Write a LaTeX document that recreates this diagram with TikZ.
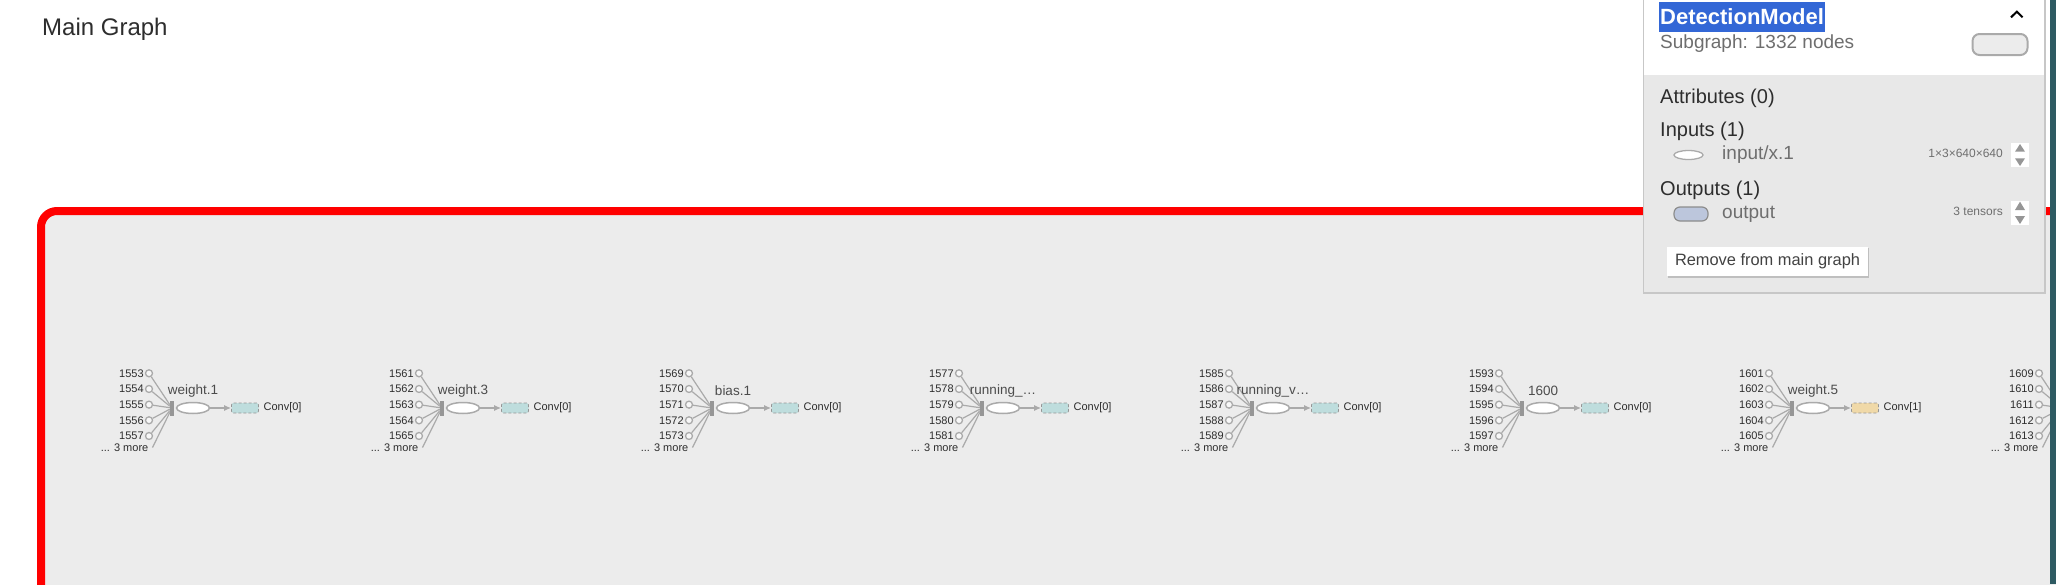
\documentclass[tikz,border=0pt]{standalone}
\usepackage{fontspec}
\setmainfont{Liberation Sans}
\usetikzlibrary{shapes.geometric,arrows,arrows.meta,positioning}
\definecolor{framered}{RGB}{255,0,0}
\definecolor{canvasgray}{RGB}{236,236,236}
\definecolor{edgegray}{RGB}{170,170,170}
\definecolor{hubgray}{RGB}{150,150,150}
\definecolor{convteal}{RGB}{190,221,221}
\definecolor{convsand}{RGB}{240,217,168}
\definecolor{panelgray}{RGB}{232,232,232}
\definecolor{selblue}{RGB}{51,103,214}
\definecolor{textdark}{RGB}{45,45,45}
\definecolor{textgray}{RGB}{110,110,110}
\definecolor{outblue}{RGB}{188,198,220}
\definecolor{stripteal}{RGB}{46,90,98}

\begin{document}
\begin{tikzpicture}[x=1pt,y=-1pt,>={Latex[length=7pt,width=6pt]}]
\tikzstyle{const}=[circle,draw=edgegray,line width=1.3pt,fill=canvasgray!40!white,
inner sep=0pt,minimum size=7pt,label distance=4.5pt]
\tikzstyle{num}=[font=\fontsize{11}{13}\selectfont,text=textdark,inner sep=1pt]
\tikzstyle{hub}=[rectangle,fill=hubgray,inner sep=0pt,minimum width=4pt,minimum height=15pt]
\tikzstyle{op}=[ellipse,draw=edgegray,line width=1.5pt,fill=white,inner sep=0pt,
minimum width=33pt,minimum height=11pt]
\tikzstyle{oplabel}=[font=\fontsize{13.5}{15}\selectfont,text=textdark!85!white,inner sep=0pt]
\tikzstyle{convbox}=[rectangle,rounded corners=2pt,draw=hubgray,densely dashed,line width=0.8pt,
inner sep=0pt,minimum width=27pt,minimum height=10pt]
\tikzstyle{wire}=[draw,color=edgegray,line width=1.2pt]
\tikzstyle{head}=[anchor=west,inner sep=0pt,font=\fontsize{20}{24}\selectfont,text=textdark]
\tikzstyle{info}=[anchor=west,inner sep=0pt,font=\fontsize{19}{23}\selectfont,text=textgray]
\tikzstyle{dims}=[anchor=east,inner sep=0pt,font=\fontsize{12}{14}\selectfont,text=textgray]
\tikzstyle{updown}=[rectangle,fill=white,inner sep=0pt,minimum width=18pt,minimum height=24pt]

\useasboundingbox (0,0) rectangle (2056,584);
\clip (0,0) rectangle (2056,584);
\fill[white] (0,0) rectangle (2056,584);

\node[anchor=base west,inner sep=0pt,font=\fontsize{24}{28}\selectfont,text=textdark] (title) at (42,35) {Main Graph};

\draw[framered,line width=8pt,fill=canvasgray,rounded corners=16pt] (41,211) rectangle (2300,800);

\foreach \i/\first in {0/1553,1/1561,2/1569,3/1577,4/1585,5/1593,6/1601,7/1609}{
  \node[hub] (h\i) at (172+270*\i,408) {};
  \foreach \k in {0,...,4}{
    \pgfmathtruncatemacro{\num}{\first+\k}
    \node[const,label={[num]left:\num}] (c\i-\k) at (149+270*\i,373.3+15.67*\k) {};
    \path[wire] (c\i-\k) -- (h\i);
  }
  \node[num,inner xsep=4pt,anchor=east] (m\i) at (152.5+270*\i,447.5) {... 3 more};
  \path[wire] (m\i.east) -- (h\i);
}

\foreach \i/\name/\conv/\col in {0/{weight.1}/{Conv[0]}/convteal,1/{weight.3}/{Conv[0]}/convteal,
2/{bias.1}/{Conv[0]}/convteal,3/{running\_\dots}/{Conv[0]}/convteal,4/{running\_v\dots}/{Conv[0]}/convteal,
5/{1600}/{Conv[0]}/convteal,6/{weight.5}/{Conv[1]}/convsand}{
  \node[op,node distance=21pt,right of=h\i] (op\i) {};
  \node[oplabel,node distance=17pt,above of=op\i] (l\i) {\name};
  \node[convbox,fill=\col,node distance=52pt,right of=op\i] (cb\i) {};
  \node[num,anchor=west] (ct\i) at ([xshift=3.5pt]cb\i.east) {\conv};
  \path[->,wire] (op\i) edge (cb\i);
}

\fill[black!22] (1642.5,0) rectangle (2045.5,294);
\fill[white] (1644,0) rectangle (2044,75);
\fill[panelgray] (1644,75) rectangle (2044,291.7);

\node[anchor=west,fill=selblue,text=white,inner xsep=1pt,inner ysep=0pt,minimum height=30pt,
font=\bfseries\fontsize{22}{26}\selectfont] (dm) at (1659,16.8) {DetectionModel};
\draw[line width=2pt] (2011,17.3) -- (2016.8,11.7) -- (2022.6,17.3);
\node[info] (sub) at (1660,44) {Subgraph: 1332 nodes};
\node[draw=edgegray,line width=2pt,fill=canvasgray,rounded corners=7pt,
minimum width=55pt,minimum height=21pt] (pill) at (2000,44.5) {};

\node[head] (attr) at (1660,98) {Attributes (0)};
\node[head] (ins) at (1660,131) {Inputs (1)};
\node[ellipse,draw=edgegray,line width=1.3pt,fill=white,inner sep=0pt,
minimum width=29pt,minimum height=9pt] (inop) at (1688.5,155) {};
\node[info] (inname) at (1722,155) {input/x.1};
\node[dims] (indims) at (2003,153) {1×3×640×640};
\node[updown] (inud) at (2019.5,155) {};
\fill[hubgray] (2015,151.7) -- (2025,151.7) -- (2020,144) -- cycle;
\fill[hubgray] (2015,158.3) -- (2025,158.3) -- (2020,166) -- cycle;

\node[head] (outs) at (1660,190) {Outputs (1)};
\node[rectangle,draw=black!45,line width=1.2pt,fill=outblue,rounded corners=6pt,
minimum width=34pt,minimum height=14pt] (outop) at (1691,214) {};
\node[info] (outname) at (1722,214) {output};
\node[dims] (outdims) at (2003,211) {3 tensors};
\node[updown] (outud) at (2019.5,213) {};
\fill[hubgray] (2015,210) -- (2025,210) -- (2020,201.7) -- cycle;
\fill[hubgray] (2015,216) -- (2025,216) -- (2020,224) -- cycle;

\fill[black!25] (1667.5,248) rectangle (1868.5,277.5);
\node[fill=white,minimum width=201pt,minimum height=29pt,inner sep=0pt,text=textdark!90!white,
font=\fontsize{16.4}{19}\selectfont] (remove) at (1767.5,261.5) {Remove from main graph};

\fill[stripteal] (2050,0) rectangle (2056,584);
\end{tikzpicture}
\end{document}
